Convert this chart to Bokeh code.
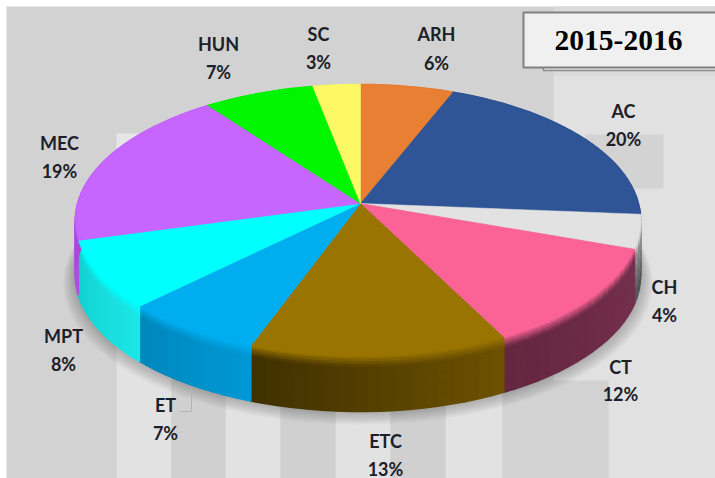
import math
from bokeh.plotting import figure
from bokeh.models import Range1d
from bokeh.core.properties import value
from bokeh.embed import file_html
from bokeh.resources import INLINE

# ---- data ----
categories = ["ARH", "AC", "CH", "CT", "ETC", "ET", "MPT", "MEC", "HUN", "SC"]
percents = [6, 20, 4, 12, 13, 7, 8, 19, 7, 3]
title_text = "2015-2016"

# ---- styles ----
top_colors = ["#e97f33", "#2f5597", "#e2e2e2", "#fb6396", "#9a7400",
              "#00aeef", "#00ffff", "#c765ff", "#00f500", "#fdf966"]
side_start = ["#b86020", "#24406f", "#a8a8a8", "#76304e", "#6e5200",
              "#0098d4", "#1de6e6", "#b050e0", "#00c000", "#d0d040"]
side_end = ["#90501c", "#1c3257", "#4c4c4c", "#642640", "#3f3000",
            "#0086bb", "#12d0d0", "#9030c0", "#009000", "#a0a030"]

# ---- layout (reference pixels) ----
label_x = [436, 623, 664, 620, 385, 165, 63, 59, 218, 318]
label_y1 = [33, 110, 286, 366, 440, 404, 335, 142, 43, 33]
label_y2 = [62, 138, 314, 393, 468, 432, 363, 170, 71, 61]
APEX_X, APEX_Y, RX_LEFT, RX_RIGHT, DEPTH = 360, 203, 283, 278, 55
PC, PA = 0.125, -108.5


def rim(theta, drop=0.0, grow=0.0):
    s, c = math.sin(theta), math.cos(theta)
    d = PC * c + 1
    rx = RX_RIGHT if s >= 0 else RX_LEFT
    return (APEX_X + (rx + grow) * s / d,
            (PA * c + APEX_Y) / d + drop + grow * (-c) * 0.5)


def hex2rgb(h):
    return tuple(int(h[i:i + 2], 16) for i in (1, 3, 5))


def mix(a, b, t):
    ra, rb = hex2rgb(a), hex2rgb(b)
    return "#%02x%02x%02x" % tuple(round(x + (y - x) * t) for x, y in zip(ra, rb))


total = sum(percents)
edges = [0.0]
for v in percents:
    edges.append(edges[-1] + v / total * 2 * math.pi)

p = figure(width=715, height=478, output_backend="svg", toolbar_location=None,
           x_range=Range1d(0, 715), y_range=Range1d(478, 0),
           min_border=0, outline_line_color=None, background_fill_color="#ffffff",
           border_fill_color="#ffffff")
p.xaxis.visible = False
p.yaxis.visible = False
p.grid.visible = False


def box(x0, x1, y0, y1, color, **kw):
    p.quad(left=x0, right=x1, top=y0, bottom=y1, fill_color=color, line_color=None, **kw)


# backdrop blocks and stripes
box(6, 715, 6, 478, "#d2d2d2")
box(553, 715, 6, 75, "#dadada")
box(553, 715, 75, 478, "#e1e1e1")
box(585, 663, 134, 188, "#d3d3d3")
box(116, 200, 133, 200, "#e6e6e6")
for x0, x1 in [(116, 171), (225, 280), (335, 390), (445, 502)]:
    box(x0, x1, 300, 478, "#e2e2e2")
box(171, 225, 380, 478, "#d0d0d0")
box(280, 335, 380, 478, "#d0d0d0")
box(390, 445, 380, 478, "#d0d0d0")
box(502, 608, 380, 478, "#d2d2d2")

# soft shadow under the disc
steps = [math.radians(a) for a in range(0, 361, 4)]
for g in range(12, 0, -1):
    pts = [rim(t, DEPTH + g * 0.6, g) for t in steps]
    p.patch([q[0] for q in pts], [q[1] for q in pts], fill_color="#000000",
            fill_alpha=0.018, line_color=None)

# side wall, painted as rings of small quads
BANDS = [(0.0, 0.05), (0.05, 0.1), (0.1, 0.15), (0.15, 0.2), (0.2, 0.4), (0.4, 0.6), (0.6, 0.8), (0.8, 1.0)]
xs, ys, fills = [], [], []
for i in range(len(percents)):
    a0, a1 = edges[i], edges[i + 1]
    n = max(1, int((a1 - a0) / math.radians(2.5)))
    for k in range(n):
        t0 = a0 + (a1 - a0) * k / n
        t1 = a0 + (a1 - a0) * (k + 1) / n
        u = (k + 0.5) / n
        for b0, b1 in BANDS:
            mid = (b0 + b1) / 2
            base = mix(side_start[i], side_end[i], u if categories[i] != "CH" else mid)
            if mid < 0.2:
                color = mix(top_colors[i], base, min(1.0, mid / 0.2))
            else:
                color = base
            A, B = rim(t0, DEPTH * b0), rim(t1, DEPTH * b0)
            C, D = rim(t1, DEPTH * b1), rim(t0, DEPTH * b1)
            xs.append([A[0], B[0], C[0], D[0]])
            ys.append([A[1], B[1], C[1], D[1]])
            fills.append(color)
p.patches(xs, ys, fill_color=fills, line_color=fills, line_width=1.5)

# top face
for i in range(len(percents)):
    a0, a1 = edges[i], edges[i + 1]
    n = max(2, int((a1 - a0) / math.radians(2)))
    pts = [(APEX_X, APEX_Y)] + [rim(a0 + (a1 - a0) * k / n) for k in range(n + 1)]
    p.patch([q[0] for q in pts], [q[1] for q in pts], fill_color=top_colors[i],
            line_color=top_colors[i], line_width=0.5)

# ET leader
p.line([180, 191, 191], [411, 411, 388], line_color="#b4b4b4", line_width=1)

# labels
font = value("Lato")
p.text(label_x, label_y1, text=categories, text_font=font, text_font_style="bold",
       text_font_size="18px", text_color="#1c2028", text_align="center", text_baseline="middle")
p.text(label_x, label_y2, text=[f"{v}%" for v in percents], text_font=font, text_font_style="bold",
       text_font_size="18px", text_color="#1c2028", text_align="center", text_baseline="middle")

# title box
p.quad(left=543, right=717, top=20, bottom=70, fill_color="#e6e6e6", line_color="#8a8a8a", line_width=1.5)
p.quad(left=523, right=717, top=12, bottom=67, fill_color="#f0f0f0", line_color="#808080", line_width=2)
p.text([618], [40], text=[title_text], text_font=value("Liberation Serif"), text_font_style="bold",
       text_font_size="29.5px", text_color="#000000", text_align="center", text_baseline="middle")

open("out.html", "w").write(file_html(p, INLINE))
